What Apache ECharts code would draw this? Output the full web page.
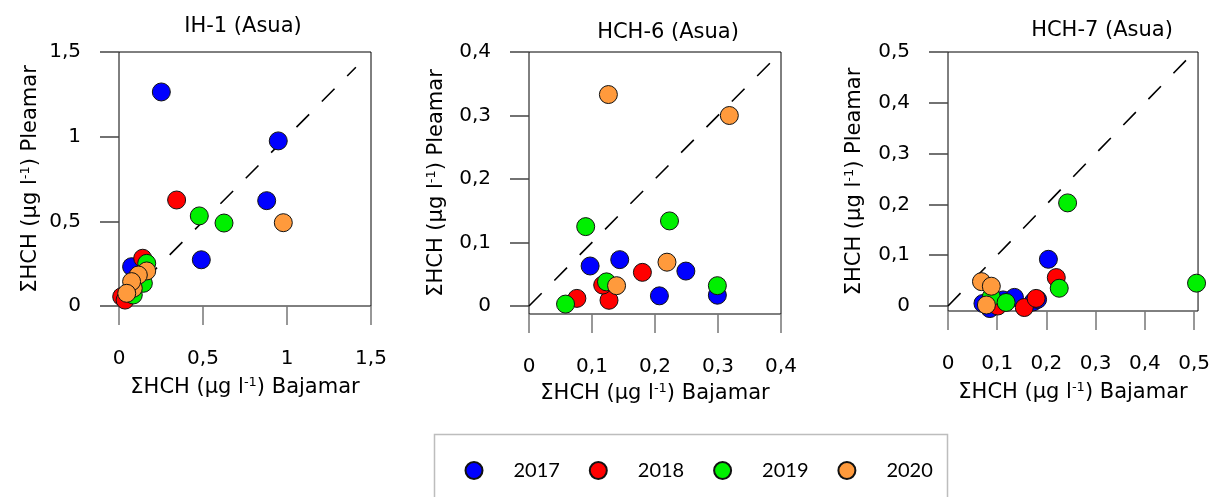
<!DOCTYPE html>
<html>
<head>
<meta charset="utf-8">
<script src="https://cdn.jsdelivr.net/npm/echarts@6/dist/echarts.min.js"></script>
<style>
  html, body { margin: 0; padding: 0; background: #fff; }
  #main { width: 1213px; height: 497px; }
</style>
</head>
<body>
<div id="main"></div>
<script>
// años (leyenda)
const years = ['2017', '2018', '2019', '2020'];
const yearColors = ['#0000ff', '#ff0000', '#00f000', '#ff9a3c'];

// IH-1 (Asua): [bajamar, pleamar]
const ih1_2017 = [[0.252, 1.264], [0.948, 0.975], [0.879, 0.622], [0.49, 0.273], [0.075, 0.232]];
const ih1_2018 = [[0.343, 0.626], [0.141, 0.282], [0.016, 0.055], [0.036, 0.035]];
const ih1_2019 = [[0.478, 0.532], [0.625, 0.49], [0.165, 0.252], [0.145, 0.134], [0.085, 0.065]];
const ih1_2020 = [[0.978, 0.492], [0.165, 0.207], [0.115, 0.183], [0.085, 0.105], [0.075, 0.144], [0.046, 0.075]];

// HCH-6 (Asua)
const hch6_2017 = [[0.097, 0.063], [0.144, 0.073], [0.249, 0.055], [0.207, 0.016], [0.299, 0.017], [0.126, 0.028]];
const hch6_2018 = [[0.18, 0.053], [0.076, 0.012], [0.127, 0.009], [0.117, 0.033]];
const hch6_2019 = [[0.09, 0.125], [0.223, 0.134], [0.299, 0.032], [0.058, 0.003], [0.123, 0.038]];
const hch6_2020 = [[0.126, 0.333], [0.318, 0.3], [0.219, 0.069], [0.139, 0.032]];

// HCH-7 (Asua)
const hch7_2017 = [[0.204, 0.092], [0.071, 0.005], [0.085, -0.005], [0.112, 0.012], [0.135, 0.017], [0.173, 0.008], [0.182, 0.013]];
const hch7_2018 = [[0.22, 0.056], [0.101, 0.0], [0.155, -0.003], [0.179, 0.015]];
const hch7_2019 = [[0.243, 0.203], [0.505, 0.045], [0.226, 0.035], [0.088, 0.018], [0.118, 0.007]];
const hch7_2020 = [[0.068, 0.048], [0.088, 0.039], [0.078, 0.002]];

// ticks
const ticks1 = [0, 0.5, 1, 1.5];
const ticks2 = [0, 0.1, 0.2, 0.3, 0.4];
const ticks3 = [0, 0.1, 0.2, 0.3, 0.4, 0.5];

const panels = [
  { title: 'IH-1 (Asua)', data: [ih1_2017, ih1_2018, ih1_2019, ih1_2020], ticks: ticks1,
    xMax: 1.5, yMin: 0, yMax: 1.5, diag: 1.41,
    grid: { left: 119, top: 52, width: 252, height: 254 }, titleX: 243, titleY: 16,
    yGap: 77, xGap: 70 },
  { title: 'HCH-6 (Asua)', data: [hch6_2017, hch6_2018, hch6_2019, hch6_2020], ticks: ticks2,
    xMax: 0.4, yMin: -0.0126, yMax: 0.4, diag: 0.388,
    grid: { left: 529, top: 52, width: 252, height: 262 }, titleX: 668, titleY: 22,
    yGap: 81, xGap: 67 },
  { title: 'HCH-7 (Asua)', data: [hch7_2017, hch7_2018, hch7_2019, hch7_2020], ticks: ticks3,
    xMax: 0.508, yMin: -0.0098, yMax: 0.5, diag: 0.508,
    grid: { left: 948, top: 52, width: 252, height: 259 }, titleX: 1102, titleY: 20,
    yGap: 82, xGap: 70 },
];

const fmt = (v) => String(Number(v.toFixed(2))).replace('.', ',');
const nameRich = { s: { fontSize: 13, padding: [0, 0, 10, 0], fontFamily: 'DejaVu Sans', color: '#000' } };
const nameStyle = { fontFamily: 'DejaVu Sans', fontSize: 21, color: '#000', rich: nameRich };

const myChart = echarts.init(document.getElementById('main'));

const grids = [], xAxes = [], yAxes = [], titles = [], series = [];
panels.forEach((p, i) => {
  grids.push(Object.assign({ show: true, borderColor: '#000', borderWidth: 1, backgroundColor: 'transparent' }, p.grid));
  titles.push({
    text: p.title, left: p.titleX, top: p.titleY, textAlign: 'center', padding: 0,
    textStyle: { fontFamily: 'DejaVu Sans', fontSize: 21, fontWeight: 'normal', color: '#000' },
  });
  xAxes.push({
    type: 'value', gridIndex: i, min: 0, max: p.xMax,
    name: 'ΣHCH (µg l{s|-1}) Bajamar', nameLocation: 'middle', nameGap: p.xGap, nameTextStyle: nameStyle,
    axisLine: { show: false, onZero: false },
    axisTick: { show: true, inside: false, length: 19, customValues: p.ticks, lineStyle: { color: '#777', width: 1.5 } },
    axisLabel: { customValues: p.ticks, margin: 43, formatter: fmt, fontFamily: 'DejaVu Sans', fontSize: 20, color: '#000' },
    splitLine: { show: false },
  });
  yAxes.push({
    type: 'value', gridIndex: i, min: p.yMin, max: p.yMax,
    name: 'ΣHCH (µg l{s|-1}) Pleamar', nameLocation: 'middle', nameGap: p.yGap, nameTextStyle: nameStyle,
    axisLine: { show: false, onZero: false },
    axisTick: { show: true, inside: false, length: 19, customValues: p.ticks, lineStyle: { color: '#444', width: 1.5 } },
    axisLabel: { customValues: p.ticks, margin: 38, formatter: fmt, fontFamily: 'DejaVu Sans', fontSize: 20, color: '#000' },
    splitLine: { show: false },
  });
  // línea 1:1
  series.push({
    type: 'line', xAxisIndex: i, yAxisIndex: i, data: [[0, 0], [p.diag, p.diag]],
    symbol: 'none', silent: true, z: 1,
    lineStyle: { color: '#000', width: 1.6, type: [18, 18] },
  });
  years.forEach((y, k) => {
    series.push({
      type: 'scatter', name: y, xAxisIndex: i, yAxisIndex: i, data: p.data[k],
      symbol: 'circle', symbolSize: 18, z: 3,
      itemStyle: { color: yearColors[k], borderColor: '#111', borderWidth: 1, opacity: 1 },
    });
  });
});

const options = {
  animation: false,
  title: titles,
  grid: grids,
  xAxis: xAxes,
  yAxis: yAxes,
  legend: years.map((y, k) => ({
    data: [y], left: 464.5 + k * 124.3, top: 460.5, orient: 'horizontal', padding: 0,
    icon: 'circle', itemWidth: 17, itemHeight: 17,
    textStyle: { fontFamily: 'Lato', fontSize: 20, color: '#000', padding: [0, 0, 0, 26] },
  })),
  graphic: [{
    type: 'rect', shape: { x: 434.5, y: 434.5, width: 513, height: 80 },
    style: { fill: 'none', stroke: '#bdbdbd', lineWidth: 1.5 }, silent: true,
  }],
  series: series,
};
myChart.setOption(options);
window.onresize = function () {
  myChart.resize();
};
</script>
</body>
</html>
